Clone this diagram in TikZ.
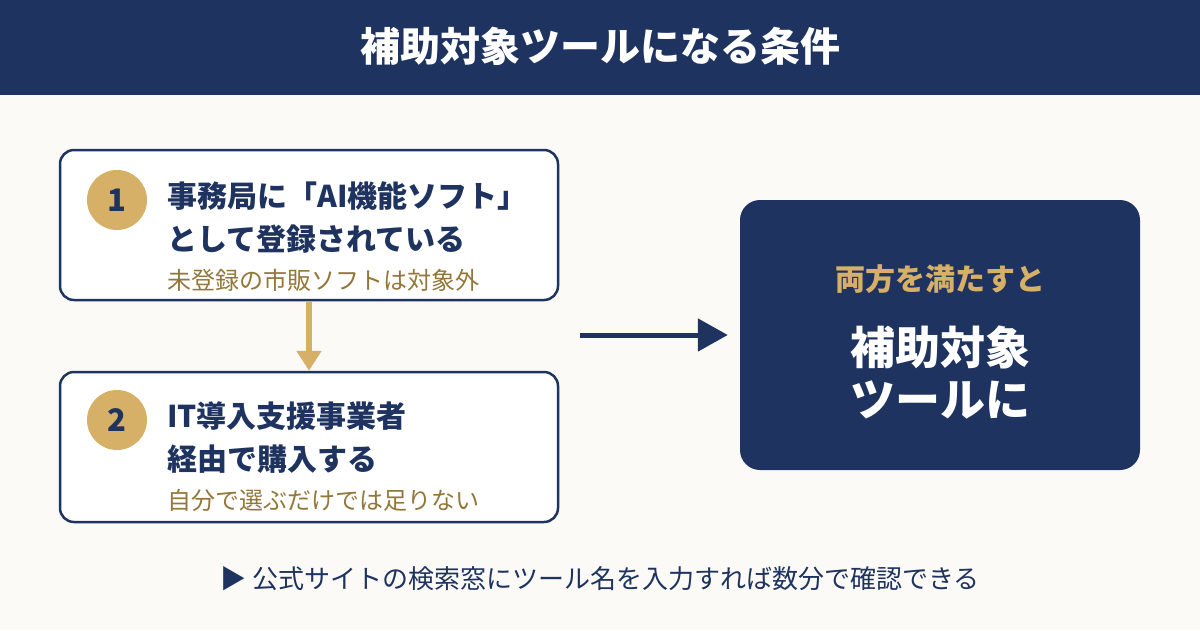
\documentclass[tikz,border=0pt]{standalone}
\usepackage{fontspec}
\setmainfont{Noto Sans CJK JP}
\usepackage{xcolor}
\usetikzlibrary{arrows.meta, positioning}
\definecolor{cNavy}{HTML}{1E335F}
\definecolor{cGold}{HTML}{D6B066}
\definecolor{cBrown}{HTML}{93773A}
\definecolor{cPaper}{HTML}{FBFAF7}
\newcommand{\fs}[1]{\fontsize{#1}{#1}\selectfont}

\begin{document}
\begin{tikzpicture}[x=1pt, y=-1pt,
  card/.style={draw=cNavy, line width=2.5pt, rounded corners=14pt, fill=white,
               minimum width=498pt, minimum height=150pt},
  num/.style={circle, fill=cGold, minimum size=60pt, inner sep=0pt,
              text=cNavy, font=\fs{31}\bfseries},
  head/.style={anchor=west, align=left, inner sep=0pt, text=cNavy,
               font=\fontsize{30}{43}\selectfont\bfseries},
  note/.style={anchor=west, inner sep=0pt, text=cBrown, font=\fs{24}},
  garr/.style={-{Triangle[length=20pt, width=24pt]}, cGold, line width=6pt},
  narr/.style={-{Triangle[length=30pt, width=32pt]}, navy, line width=5pt},
  navy/.style={cNavy}]
\useasboundingbox (0,0) rectangle (1200,630);
\fill[cPaper] (0,0) rectangle (1200,630);
\fill[cNavy] (0,0) rectangle (1200,95);
\node[text=white, font=\fs{40}\bfseries] (title) at (600,46) {補助対象ツールになる条件};

% two conditions
\node[card] (s1) at (309,225) {};
\node[num] (n1) at (117,200) {1};
\node[head] (h1) at (167,217) {事務局に「AI機能ソフト」\\として登録されている};
\node[note] (m1) at (167,280) {未登録の市販ソフトは対象外};

\node[card] (s2) at (309,447) {};
\node[num] (n2) at (117,420) {2};
\node[head] (h2) at (167,438) {IT導入支援事業者\\経由で購入する};
\node[note] (m2) at (167,500) {自分で選ぶだけでは足りない};

\draw[garr, shorten <=1pt] (s1.south) -- (s2.north);

% result
\node[fill=cNavy, rounded corners=20pt, minimum width=400pt, minimum height=270pt]
  (goal) at (940,335) {};
\node[text=cGold, font=\fs{30}\bfseries] (both) at (940,279) {両方を満たすと};
\node[text=white, align=center, font=\fontsize{45}{52}\selectfont\bfseries]
  (tool) at (940,372) {補助対象\\ツールに};
\coordinate (join) at (580,335);
\draw[narr, shorten >=12pt] (join) -- (goal.west);

\node[text=cNavy, font=\fs{26}] (foot) at (600,579) {▶ 公式サイトの検索窓にツール名を入力すれば数分で確認できる};
\end{tikzpicture}
\end{document}
